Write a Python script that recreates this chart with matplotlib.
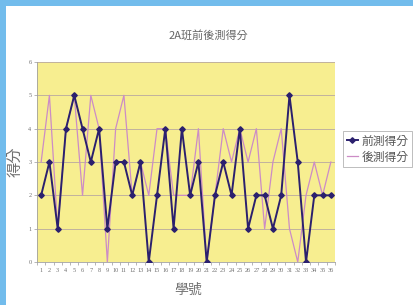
import matplotlib.pyplot as plt
from matplotlib.patches import Rectangle

students = list(range(1, 37))
pre_scores = [2, 3, 1, 4, 5, 4, 3, 4, 1, 3, 3, 2, 3, 0, 2, 4, 1, 4,
              2, 3, 0, 2, 3, 2, 4, 1, 2, 2, 1, 2, 5, 3, 0, 2, 2, 2]
post_scores = [3, 5, 1, 4, 5, 2, 5, 4, 0, 4, 5, 2, 3, 2, 4, 4, 2, 2,
               2, 4, 0, 2, 4, 3, 4, 3, 4, 1, 3, 4, 1, 0, 2, 3, 2, 3]
y_ticks = [0, 1, 2, 3, 4, 5, 6]

cjk = ['Noto Sans CJK TC', 'DejaVu Sans']
txt = '#707070'

fig = plt.figure(figsize=(4.13, 3.05), dpi=100)
fig.patch.set_facecolor('#72BCEC')
# white slide panel
fig.patches.append(Rectangle((6 / 413, 0), 1, 1 - 6 / 305,
                             transform=fig.transFigure, facecolor='white',
                             edgecolor='none', zorder=-10))

ax = fig.add_axes([37 / 413, 1 - 262 / 305, 298 / 413, 200 / 305])
ax.set_facecolor('#F7EE90')
ax.plot(students, pre_scores, color='#2B206E', lw=1.4, marker='D',
        markersize=2.8, label='前測得分', zorder=3)
ax.plot(students, post_scores, color='#CC8CC6', lw=0.9,
        label='後測得分', zorder=2)

ax.set_xlim(0.5, 36.5)
ax.set_ylim(0, 6)
ax.set_yticks(y_ticks)
ax.set_yticklabels([str(v) for v in y_ticks], fontsize=4.5,
                   family='Liberation Serif', color=txt)
ax.set_xticks(students)
ax.set_xticklabels([str(s) for s in students], fontsize=4.5,
                   family='Liberation Serif', color=txt)
ax.set_xticks([s + 0.5 for s in range(0, 37)], minor=True)
ax.tick_params(axis='x', which='major', length=0, pad=4)
ax.tick_params(axis='x', which='minor', length=2.5, color='#999999', width=0.5)
ax.tick_params(axis='y', length=2, color='#999999', width=0.5, pad=2)
ax.grid(axis='y', color='#B8A8A0', lw=0.6)
ax.set_axisbelow(True)
for side in ['top', 'right']:
    ax.spines[side].set_visible(False)
for side in ['left', 'bottom']:
    ax.spines[side].set_color('#A0A0A0')
    ax.spines[side].set_linewidth(0.6)

fig.text(208 / 413, 1 - 35 / 305, '2A班前後測得分', ha='center', va='center',
         fontsize=8, family=cjk, color='#666666')
fig.text(15 / 413, 1 - 162 / 305, '得分', ha='center', va='center',
         rotation=90, fontsize=11, family=cjk, color=txt)
fig.text(188 / 413, 1 - 290 / 305, '學號', ha='center', va='center',
         fontsize=10, family=cjk, color=txt)

leg = ax.legend(loc='center left', bbox_to_anchor=(343 / 413, 1 - 149 / 305),
                bbox_transform=fig.transFigure, prop={'family': cjk, 'size': 8.5},
                frameon=True, fancybox=False, edgecolor='#A0A0A0',
                handlelength=1.0, handletextpad=0.3, borderpad=0.3,
                labelspacing=0.25, borderaxespad=0)
for t in leg.get_texts():
    t.set_color('#555555')
leg.get_frame().set_linewidth(0.6)

plt.savefig('out.png', dpi=100, facecolor=fig.get_facecolor())
